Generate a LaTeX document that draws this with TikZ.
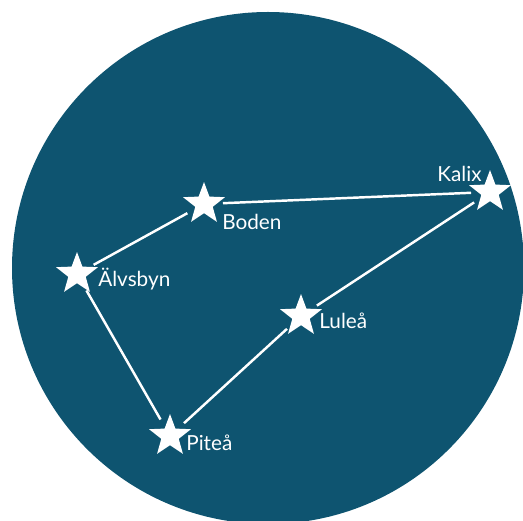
\documentclass[tikz,border=0pt]{standalone}
\usepackage{fontspec}
\setmainfont{Lato}
\usetikzlibrary{shapes.geometric}
\definecolor{nattblå}{HTML}{0E5470}
\tikzset{
    stjarna/.style={star, star points=5, star point ratio=2.4, fill=white, draw=none, minimum size=0.88cm, inner sep=0pt},
    led/.style={white, line width=1.4pt, shorten <=0.38cm, shorten >=0.38cm},
    ort/.style={text=white, inner sep=0pt, font=\fontsize{11.8}{14}\selectfont}
}
\begin{document}
\begin{tikzpicture}[x=0.02cm, y=-0.02cm]
        \useasboundingbox (0,0) rectangle (523,520);
        \clip (0,0) rectangle (523,520);
        %himmel
        \fill[nattblå] (268,268) circle (256);
        %stjärnor
        \node[stjarna] (boden) at (204,204) {};
        \node[stjarna] (kalix) at (490,192) {};
        \node[stjarna] (alvsbyn) at (77,274) {};
        \node[stjarna] (lulea) at (301,316) {};
        \node[stjarna] (pitea) at (170,436) {};
        %namn
        \node[ort, anchor=base west] (bodenlbl) at ([shift={(18,25)}]boden.center) {Boden};
        \node[ort, anchor=base east] (kalixlbl) at ([shift={(-8,-11)}]kalix.center) {Kalix};
        \node[ort, anchor=base west] (alvsbynlbl) at ([shift={(21,12)}]alvsbyn.center) {Älvsbyn};
        \node[ort, anchor=base west] (lulealbl) at ([shift={(18,12)}]lulea.center) {Luleå};
        \node[ort, anchor=base west] (pitealbl) at ([shift={(16,14)}]pitea.center) {Piteå};
        %linjer
        \draw[led] (alvsbyn.center) -- (boden.center);
        \draw[led] (boden.center) -- (kalix.center);
        \draw[led] (kalix.center) -- (lulea.center);
        \draw[led] (lulea.center) -- (pitea.center);
        \draw[led] (pitea.center) -- (alvsbyn.center);
\end{tikzpicture}
\end{document}
